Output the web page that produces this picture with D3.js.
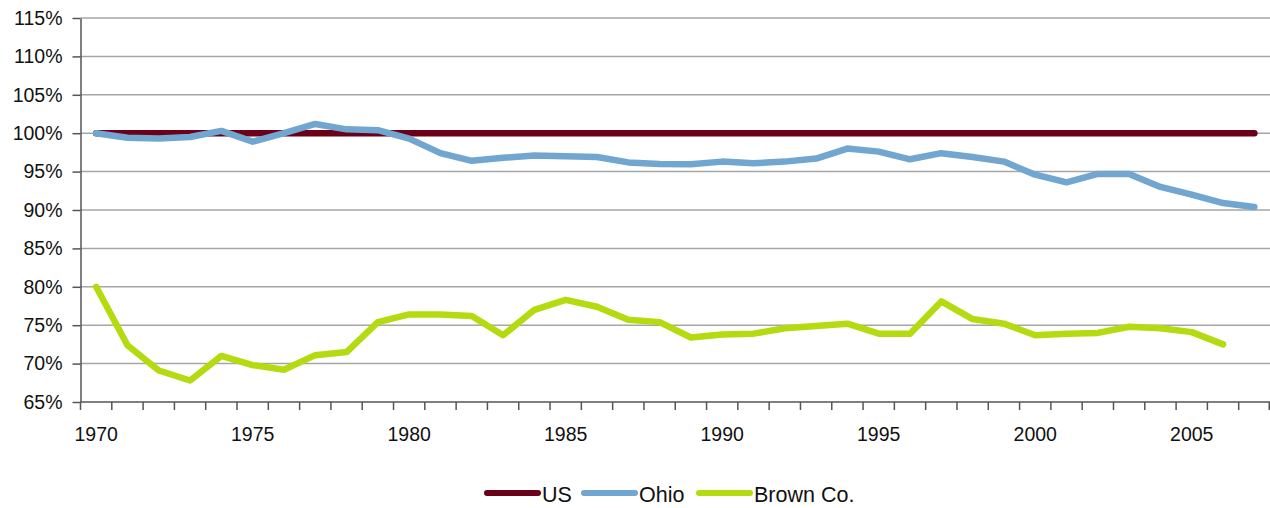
<!DOCTYPE html>
<html>
<head>
<meta charset="utf-8">
<script src="https://cdn.jsdelivr.net/npm/d3@7"></script>
<style>
  body { margin: 0; background: #fff; }
  svg { display: block; font-family: "Liberation Sans", Arial, sans-serif; }
  .grid line { stroke: #a6a6a6; stroke-width: 1.5; }
  .axis path, .axis line { stroke: #555; stroke-width: 1.5; }
  .axis text { font-size: 19.5px; fill: #111; }
  .legend text { font-size: 21.5px; fill: #111; }
</style>
</head>
<body>
<div class="chart"></div>
<script>
const years = d3.range(1970, 2008);
const yTicks = [65, 70, 75, 80, 85, 90, 95, 100, 105, 110, 115];
const xLabels = [1970, 1975, 1980, 1985, 1990, 1995, 2000, 2005];

const us = years.map(() => 100);
const ohio = [
  100, 99.4, 99.3, 99.5, 100.3, 98.9, 100, 101.2, 100.5, 100.4,
  99.3, 97.4, 96.4, 96.8, 97.1, 97.0, 96.9, 96.2, 96.0, 95.95,
  96.3, 96.1, 96.3, 96.7, 98.0, 97.6, 96.6, 97.4, 96.9, 96.3,
  94.6, 93.6, 94.7, 94.7, 93.0, 92.0, 90.9, 90.4
];
const brown = [
  80.0, 72.4, 69.1, 67.8, 71.0, 69.8, 69.2, 71.1, 71.5, 75.4,
  76.4, 76.4, 76.2, 73.7, 77.0, 78.3, 77.4, 75.7, 75.4, 73.4,
  73.8, 73.9, 74.6, 74.9, 75.2, 73.9, 73.9, 78.1, 75.8, 75.2,
  73.7, 73.9, 74.0, 74.8, 74.6, 74.1, 72.5, null
];

const seriesNames = ['US', 'Ohio', 'Brown Co.'];
const seriesColors = ['#6b0019', '#70a6cf', '#b4da10'];
const seriesValues = [us, ohio, brown];

const width = 1270, height = 508;
const margin = { top: 18, right: 0, bottom: 106, left: 80.5 };
const chart_bottom = height - margin.bottom;

const svg = d3.select('.chart').append('svg')
  .attr('width', width)
  .attr('height', height);

const x = d3.scaleBand().domain(years).range([margin.left, width]);
const y = d3.scaleLinear().domain([65, 115]).range([chart_bottom, margin.top]);
const cx = d => x(d) + x.bandwidth() / 2;

// gridlines
svg.append('g')
  .attr('class', 'grid')
  .selectAll('line')
  .data(yTicks.filter(t => t > 65))
  .join('line')
  .attr('x1', margin.left)
  .attr('x2', width)
  .attr('y1', d => y(d))
  .attr('y2', d => y(d));

// y axis
svg.append('g')
  .attr('class', 'axis axis--y')
  .attr('transform', 'translate(' + margin.left + ',0)')
  .call(d3.axisLeft(y).tickValues(yTicks).tickFormat(d => d + '%').tickSize(8).tickPadding(10).tickSizeOuter(0));

// x axis: labels at category centres, ticks on boundaries
const xAxis = svg.append('g')
  .attr('class', 'axis axis--x')
  .attr('transform', 'translate(0,' + chart_bottom + ')');

xAxis.append('line')
  .attr('x1', margin.left)
  .attr('x2', width)
  .attr('y1', 0)
  .attr('y2', 0);

xAxis.selectAll('.tick-mark')
  .data(years.concat([null]))
  .join('line')
  .attr('class', 'tick-mark')
  .attr('x1', d => (d === null ? width - 0.75 : x(d)))
  .attr('x2', d => (d === null ? width - 0.75 : x(d)))
  .attr('y1', 0)
  .attr('y2', 8);

xAxis.selectAll('text')
  .data(xLabels)
  .join('text')
  .attr('x', d => cx(d))
  .attr('y', 39)
  .attr('text-anchor', 'middle')
  .text(d => d);

// series
const line = d3.line()
  .defined(d => d.v !== null)
  .x(d => cx(d.year))
  .y(d => y(d.v));

svg.append('g')
  .attr('class', 'series')
  .selectAll('path')
  .data(seriesValues)
  .join('path')
  .attr('d', vals => line(vals.map((v, i) => ({ year: years[i], v: v }))))
  .attr('fill', 'none')
  .attr('stroke', (d, i) => seriesColors[i])
  .attr('stroke-width', 6.5)
  .attr('stroke-linejoin', 'round')
  .attr('stroke-linecap', 'round');

// legend
const legendX = [487, 584, 699];
const legend = svg.append('g').attr('class', 'legend');
const item = legend.selectAll('g')
  .data(seriesNames)
  .join('g')
  .attr('transform', (d, i) => 'translate(' + legendX[i] + ',493)');

item.append('line')
  .attr('x1', 0)
  .attr('x2', 51)
  .attr('stroke', (d, i) => seriesColors[i])
  .attr('stroke-width', 6)
  .attr('stroke-linecap', 'round');

item.append('text')
  .attr('x', 55)
  .attr('y', 9)
  .text(d => d);
</script>
</body>
</html>
